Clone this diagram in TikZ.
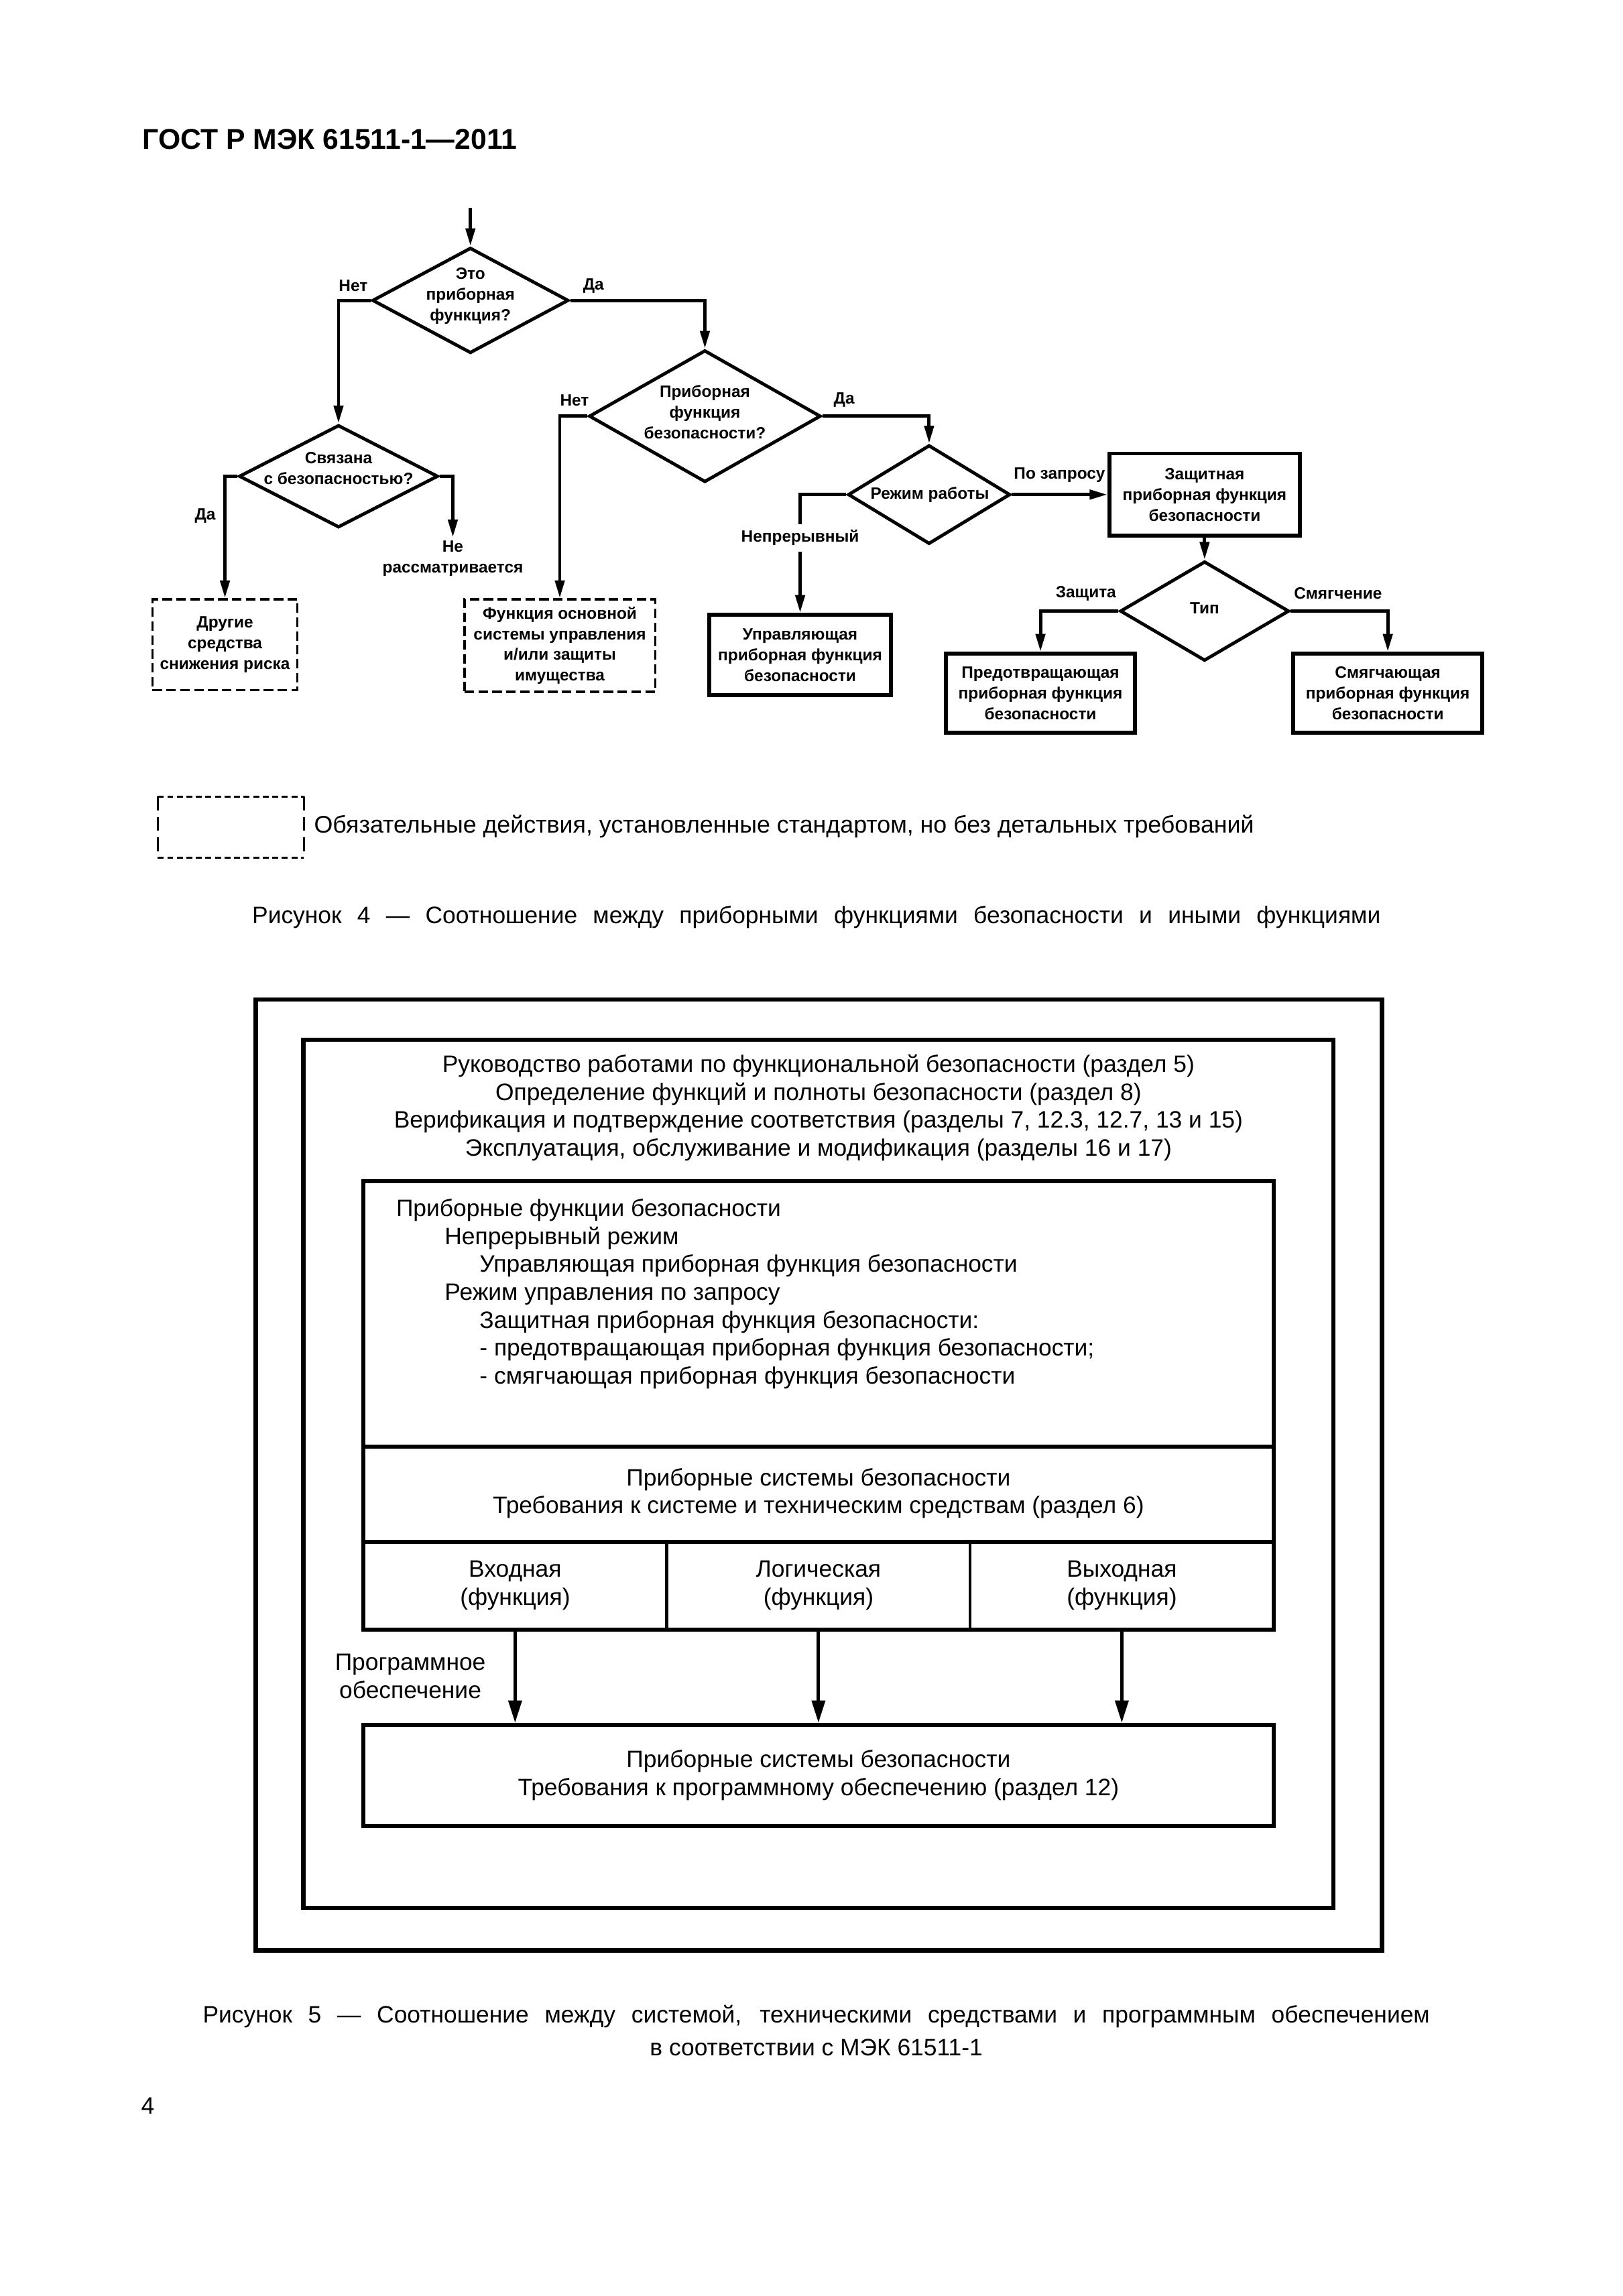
\documentclass[tikz,border=0pt]{standalone}
\usepackage{fontspec}
\setmainfont{Liberation Sans}
\usetikzlibrary{shapes.geometric,arrows.meta}
\newcommand\fcf{\fontsize{6}{7.6}\selectfont\bfseries}
\newcommand\bdf{\fontsize{8.7}{10.25}\selectfont}
\begin{document}
\begin{tikzpicture}[x=0.5375pt,y=-0.5375pt,
  dec/.style={diamond,draw,line width=1.2pt,inner sep=0pt},
  fbox/.style={draw,line width=1.4pt,inner sep=0pt,font=\fcf,align=center},
  dbox/.style={draw,line width=0.8pt,dash pattern=on 3.5pt off 1.6pt,inner sep=0pt,font=\fcf,align=center},
  txt/.style={font=\fcf,align=center,inner sep=0pt},
  fa/.style={line width=1.2pt,-{Triangle[length=6.5pt,width=3.4pt]}},
  fl/.style={line width=1.2pt},
  fa5/.style={line width=1.25pt,-{Triangle[length=8.2pt,width=4.8pt]}},
  body/.style={font=\bdf,align=center,inner sep=0pt},
  captxt/.style={font=\bdf,inner sep=0pt},
  shortdash/.style={line width=0.8pt,dash pattern=on 2.2pt off 1.3pt},
  longdash/.style={line width=0.8pt,dash pattern=on 5pt off 2.5pt},
]
\useasboundingbox (0,0) rectangle (1107.5,1566.8);
\fill[white] (0,0) rectangle (1107.5,1566.8);

% header
\node[anchor=base west,inner sep=0pt,font=\fontsize{10.5}{12}\selectfont\bfseries] (hdr) at (97,102) {ГОСТ Р МЭК 61511-1—2011};

% ---------- Figure 4 flowchart ----------
\coordinate (start) at (321,142);
\node[dec,minimum width=72pt,minimum height=38.7pt] (d1) at (321,205) {};
\node[txt] (d1t) at (321,202) {Это\\приборная\\функция?};
\node[dec,minimum width=73pt,minimum height=37.6pt] (d2) at (231,325) {};
\node[txt] (d2t) at (231,319.5) {Связана\\с безопасностью?};
\node[dec,minimum width=85pt,minimum height=48.4pt] (d3) at (481,284) {};
\node[txt] (d3t) at (481,281) {Приборная\\функция\\безопасности?};
\node[dec,minimum width=59.5pt,minimum height=36.3pt] (d4) at (634,337.5) {};
\node[txt] (d4t) at (634.5,337.5) {Режим работы};
\node[dec,minimum width=62pt,minimum height=36.5pt] (d5) at (822,417) {};
\node[txt] (d5t) at (822,415) {Тип};

\node[dbox,minimum width=53.2pt,minimum height=33.4pt] (b1) at (153.5,440) {Другие\\средства\\снижения риска};
\node[dbox,minimum width=69.9pt,minimum height=33.9pt] (b2) at (382,440.5) {Функция основной\\системы управления\\и/или защиты\\имущества};
\node[fbox,minimum width=66.6pt,minimum height=29.6pt] (b3) at (546,447) {Управляющая\\приборная функция\\безопасности};
\node[fbox,minimum width=69.9pt,minimum height=30.1pt] (p1) at (822,337.5) {Защитная\\приборная функция\\безопасности};
\node[fbox,minimum width=69.3pt,minimum height=29pt] (p2) at (710,473) {Предотвращающая\\приборная функция\\безопасности};
\node[fbox,minimum width=69.3pt,minimum height=29pt] (p3) at (947,473) {Смягчающая\\приборная функция\\безопасности};

% labels
\node[txt] (l1n) at (241,195) {Нет};
\node[txt] (l1y) at (405,195) {Да};
\node[txt] (l2y) at (140,352) {Да};
\node[txt,inner sep=1pt] (nr) at (309,381) {Не\\рассматривается};
\node[txt] (l3n) at (392,273) {Нет};
\node[txt] (l3y) at (576,273) {Да};
\node[txt] (l4d) at (723,324) {По запросу};
\node[txt,inner ysep=2pt] (nl) at (546,367) {Непрерывный};
\node[txt] (l5z) at (741,405) {Защита};
\node[txt] (l5s) at (913,405) {Смягчение};

% connectors
\draw[fa] (start) -- (d1.north);
\draw[fa] (d1.west) -| (d2.north);
\draw[fa] (d2.west) -| (b1.north);
\draw[fa] (d2.east) -| (nr.north);
\draw[fa] (d1.east) -| (d3.north);
\draw[fa] (d3.west) -| (b2.north);
\draw[fa] (d3.east) -| (d4.north);
\draw[fa] (d4.east) -- (p1.west);
\draw[fl] (d4.west) -| (nl.north);
\draw[fa] (nl.south) -- (b3.north);
\draw[fa] (p1.south) -- (d5.north);
\draw[fa] (d5.west) -| (p2.north);
\draw[fa] (d5.east) -| (p3.north);

% legend
\node[minimum width=53.2pt,minimum height=22pt,inner sep=0pt] (leg) at (157.5,564.5) {};
\draw[shortdash] (leg.north west) -- (leg.north east);
\draw[shortdash] (leg.south west) -- (leg.south east);
\draw[longdash] (leg.north west) -- (leg.south west);
\draw[longdash] (leg.north east) -- (leg.south east);
\node[anchor=west,inner sep=0pt,font=\fontsize{8.8}{10}\selectfont] (legt) at (214,564) {Обязательные действия, установленные стандартом, но без детальных требований};

% caption 4
\node[captxt] (cap4) at (557,626) {\makebox[413.8pt][s]{Рисунок 4 — Соотношение между приборными функциями безопасности и иными функциями}};

% ---------- Figure 5 ----------
\draw[line width=1.65pt] (174.5,682) rectangle (943,1331);
\draw[line width=1.5pt] (207,709.4) rectangle (910,1302);
\node[body] (top5) at (558.5,756) {Руководство работами по функциональной безопасности (раздел 5)\\Определение функций и полноты безопасности (раздел 8)\\Верификация и подтверждение соответствия (разделы 7, 12.3, 12.7, 13 и 15)\\Эксплуатация, обслуживание и модификация (разделы 16 и 17)};

\draw[line width=1.5pt] (248,806) rectangle (869,1112);
\draw[line width=1.5pt] (248,987) -- (869,987);
\draw[line width=1.5pt] (248,1052) -- (869,1052);
\draw[line width=1.1pt] (455,1052) -- (455,1112);
\draw[line width=1.1pt] (662,1052) -- (662,1112);

\node[font=\bdf,align=left,inner sep=0pt,anchor=west] (pf) at (270,883) {Приборные функции безопасности\\
\hspace*{17.8pt}Непрерывный режим\\
\hspace*{30.6pt}Управляющая приборная функция безопасности\\
\hspace*{17.8pt}Режим управления по запросу\\
\hspace*{30.6pt}Защитная приборная функция безопасности:\\
\hspace*{30.6pt}- предотвращающая приборная функция безопасности;\\
\hspace*{30.6pt}- смягчающая приборная функция безопасности};
\node[body] (ps) at (558.5,1019) {Приборные системы безопасности\\Требования к системе и техническим средствам (раздел 6)};

\node[body,minimum width=111pt,minimum height=32.2pt] (c1) at (351.5,1082) {Входная\\(функция)};
\node[body,minimum width=111pt,minimum height=32.2pt] (c2) at (558.5,1082) {Логическая\\(функция)};
\node[body,minimum width=111pt,minimum height=32.2pt] (c3) at (765.5,1082) {Выходная\\(функция)};

\node[draw,line width=1.5pt,body,inner sep=0pt,minimum width=333.8pt,minimum height=37pt] (sw) at (558.5,1211.5) {Приборные системы безопасности\\Требования к программному обеспечению (раздел 12)};

\node[body] (po) at (280,1144) {Программное\\обеспечение};

\draw[fa5] (c1.south) -- (c1.south |- sw.north);
\draw[fa5] (c2.south) -- (c2.south |- sw.north);
\draw[fa5] (c3.south) -- (c3.south |- sw.north);

% caption 5
\node[captxt] (cap5a) at (557,1376) {\makebox[450pt][s]{Рисунок 5 — Соотношение между системой, техническими средствами и программным обеспечением}};
\node[captxt] (cap5b) at (557,1397) {в соответствии с МЭК 61511-1};

% page number
\node[captxt,anchor=west] (pg) at (96,1437) {4};
\end{tikzpicture}
\end{document}
